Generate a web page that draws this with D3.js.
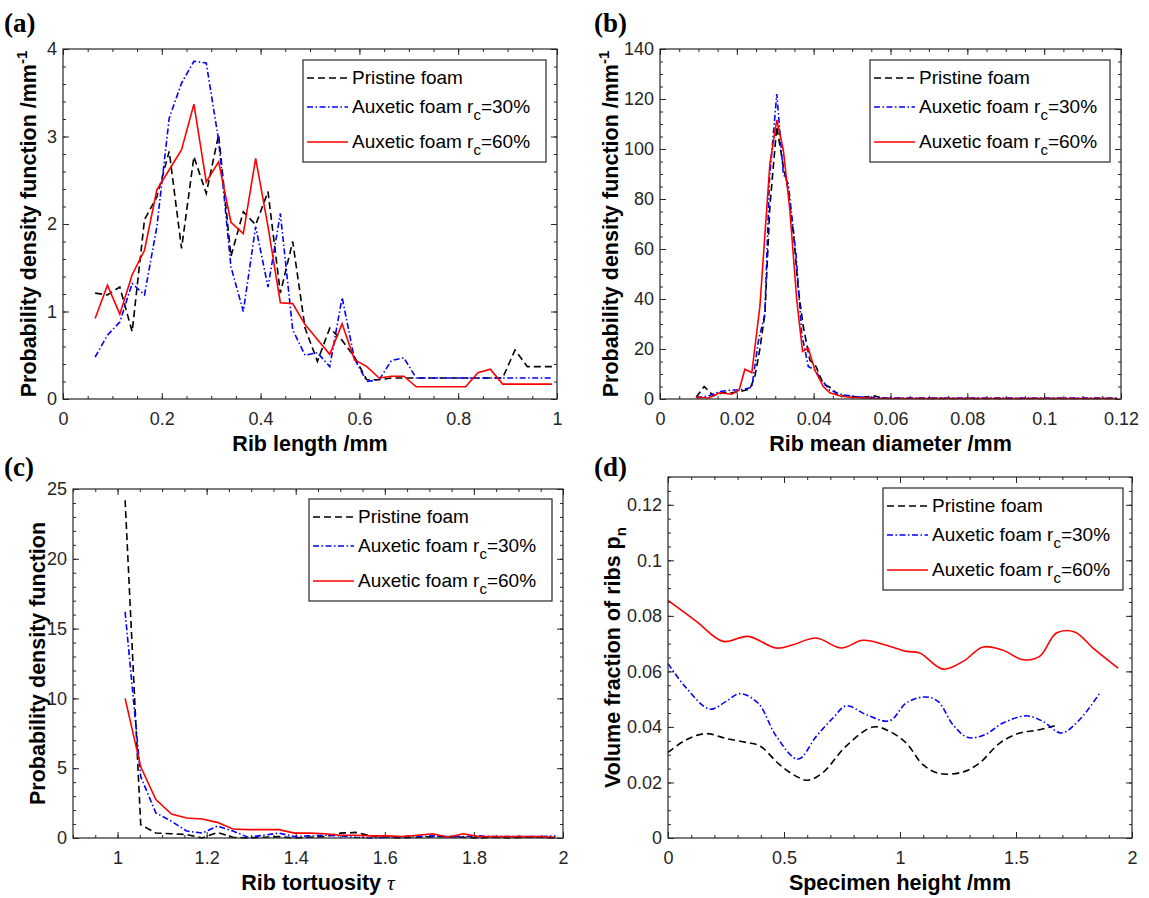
<!DOCTYPE html>
<html>
<head>
<meta charset="utf-8">
<script src="https://cdn.jsdelivr.net/npm/d3@7"></script>
<style>
body { margin: 0; background: #fff; }
</style>
</head>
<body>
<script>
// ---------- data ----------
var seriesNames = ["Pristine foam", "Auxetic foam r", "Auxetic foam r"];
var seriesSubs  = ["", "c", "c"];
var seriesTails = ["", "=30%", "=60%"];

// (a) rib length
var aX = [0.065,0.090,0.115,0.140,0.165,0.190,0.215,0.240,0.265,0.290,0.315,0.340,0.365,0.390,0.415,0.440,0.465,0.490,0.515,0.540,0.565,0.590,0.615,0.640,0.665,0.690,0.715,0.740,0.765,0.790,0.815,0.840,0.865,0.890,0.915,0.940,0.965,0.990];
var aPristine = [1.21,1.19,1.28,0.77,2.05,2.31,2.83,1.72,2.77,2.35,3.02,1.63,2.14,1.99,2.37,1.21,1.80,0.81,0.43,0.81,0.67,0.48,0.22,0.22,0.24,0.24,0.24,0.24,0.24,0.24,0.24,0.24,0.24,0.24,0.56,0.37,0.37,0.37];
var aAux30 = [0.48,0.73,0.88,1.32,1.19,1.97,3.21,3.61,3.86,3.84,2.96,1.51,1.00,1.97,1.28,2.12,0.79,0.50,0.53,0.37,1.16,0.46,0.20,0.22,0.44,0.47,0.24,0.24,0.24,0.24,0.24,0.24,0.24,0.24,0.24,0.24,0.24,0.24];
var aAux60 = [0.92,1.30,0.97,1.42,1.70,2.39,2.62,2.85,3.37,2.48,2.71,2.02,1.89,2.75,1.97,1.10,1.09,0.85,0.68,0.51,0.86,0.45,0.37,0.24,0.26,0.26,0.14,0.14,0.14,0.14,0.14,0.30,0.34,0.17,0.17,0.17,0.17,0.17];
var aXTicks = [0,0.2,0.4,0.6,0.8,1];
var aYTicks = [0,1,2,3,4];

// (b) rib mean diameter
var bPristineX = [0.0094,0.0115,0.0139,0.0163,0.0187,0.0208,0.0234,0.0247,0.0260,0.0273,0.0286,0.0304,0.0321,0.0334,0.0349,0.0360,0.0373,0.0390,0.0406,0.0425,0.0447,0.0468,0.0480,0.0520,0.0560,0.0580,0.0620,0.0800,0.1000,0.1190];
var bPristine  = [0.7,5.0,1.3,2.5,2.5,3.0,4.0,9.0,20.0,34.0,77.0,109.0,93.0,83.6,63.6,43.6,29.0,15.6,13.0,6.0,4.3,0.5,1.5,0.6,1.2,0.3,0.3,0.2,0.2,0.2];
var bAux30X = [0.0094,0.0126,0.0156,0.0187,0.0206,0.0221,0.0239,0.0256,0.0273,0.0285,0.0304,0.0321,0.0334,0.0354,0.0369,0.0386,0.0403,0.0421,0.0442,0.0460,0.0480,0.0520,0.0560,0.0600,0.0800,0.1000,0.1190];
var bAux30  = [0.5,1.2,3.0,3.6,3.6,4.0,4.7,23.0,34.0,88.0,122.0,90.0,86.0,58.0,26.0,13.0,11.6,7.6,3.6,2.5,1.5,0.8,0.5,0.4,0.4,0.4,0.4];
var bAux60X = [0.0094,0.0126,0.0156,0.0187,0.0206,0.0221,0.0239,0.0260,0.0286,0.0304,0.0321,0.0338,0.0356,0.0371,0.0386,0.0403,0.0425,0.0442,0.0470,0.0500,0.0550,0.0600,0.0800,0.1000,0.1190];
var bAux60  = [0.7,0.4,2.5,1.9,3.6,11.9,10.5,37.0,94.0,111.6,99.6,75.6,39.6,19.0,20.3,11.6,5.0,2.5,1.2,0.6,0.3,0.2,0.2,0.2,0.2];
var bXTicks = [0,0.02,0.04,0.06,0.08,0.1,0.12];
var bYTicks = [0,20,40,60,80,100,120,140];

// (c) rib tortuosity
var cX = [1.017,1.052,1.086,1.121,1.155,1.190,1.224,1.259,1.293,1.328,1.362,1.397,1.431,1.466,1.500,1.535,1.569,1.604,1.638,1.673,1.707,1.742,1.776,1.811,1.845,1.880,1.914,1.949,1.983];
var cPristine = [24.2,0.95,0.36,0.30,0.25,0.0,0.40,0.05,0.0,0.05,0.10,0.0,0.05,0.10,0.35,0.40,0.15,0.05,0.0,0.05,0.10,0.10,0.05,0.0,0.05,0.0,0.05,0.05,0.0];
var cAux30 = [16.2,4.4,1.8,1.2,0.5,0.35,0.85,0.5,0.05,0.2,0.35,0.1,0.15,0.2,0.15,0.05,0.0,0.05,0.1,0.1,0.15,0.1,0.1,0.15,0.1,0.1,0.1,0.1,0.15];
var cAux60 = [10.0,5.1,2.75,1.72,1.43,1.36,1.12,0.64,0.6,0.6,0.6,0.35,0.35,0.3,0.2,0.2,0.15,0.15,0.1,0.2,0.3,0.05,0.3,0.1,0.1,0.1,0.1,0.1,0.05];
var cXTicks = [1,1.2,1.4,1.6,1.8,2];
var cYTicks = [0,5,10,15,20,25];

// (d) volume fraction along height
var dPristineX = [0,0.079,0.165,0.251,0.338,0.395,0.481,0.553,0.603,0.668,0.769,0.884,0.955,1.027,1.099,1.171,1.272,1.343,1.430,1.516,1.588,1.667];
var dPristine  = [0.0308,0.0354,0.0376,0.0358,0.0344,0.0332,0.0264,0.0222,0.0208,0.0236,0.0332,0.0400,0.0384,0.0342,0.0264,0.0232,0.0238,0.0270,0.0342,0.0378,0.0388,0.0404];
var dAux30X = [0,0.079,0.180,0.251,0.309,0.388,0.467,0.560,0.639,0.711,0.769,0.855,0.955,1.027,1.106,1.164,1.228,1.293,1.365,1.444,1.545,1.616,1.695,1.774,1.861];
var dAux30  = [0.0628,0.0540,0.0464,0.0492,0.0520,0.0486,0.0366,0.0284,0.0366,0.0432,0.0476,0.0444,0.0422,0.0486,0.0508,0.0492,0.0408,0.0362,0.0372,0.0414,0.0440,0.0420,0.0378,0.0426,0.0522];
var dAux60X = [0,0.122,0.237,0.345,0.467,0.539,0.639,0.747,0.840,0.941,1.027,1.085,1.185,1.272,1.358,1.444,1.530,1.602,1.674,1.753,1.832,1.940];
var dAux60  = [0.0856,0.0780,0.0708,0.0726,0.0684,0.0696,0.0720,0.0684,0.0712,0.0694,0.0672,0.0666,0.0608,0.0636,0.0688,0.0676,0.0642,0.0654,0.0738,0.0742,0.0684,0.0612];
var dXTicks = [0,0.5,1,1.5,2];
var dYTicks = [0,0.02,0.04,0.06,0.08,0.1,0.12];

// ---------- drawing ----------
var sans = "'Liberation Sans', Arial, sans-serif";
var serif = "'Liberation Serif', 'Times New Roman', serif";
var axisColor = "#262626";
var styles = [
  {color: "#000000", dash: "7,4"},
  {color: "#0000ff", dash: "6,2.5,1.5,2.5"},
  {color: "#ff0000", dash: null}
];

var svg = d3.select("body").append("svg")
  .attr("width", 1149)
  .attr("height", 898);

function fmt(d) { return String(+d.toFixed(4)); }

function drawPanel(p) {
  var g = svg.append("g");
  var x = d3.scaleLinear().domain(p.xDomain).range([p.left, p.right]);
  var y = d3.scaleLinear().domain(p.yDomain).range([p.bottom, p.top]);

  var xMinor = d3.range(p.xDomain[0], p.xDomain[1] + 1e-9, p.xMinor);
  var yMinor = d3.range(p.yDomain[0], p.yDomain[1] + 1e-9, p.yMinor);

  // minor ticks, all four sides, pointing inward
  g.append("g").attr("transform", "translate(0," + p.bottom + ")")
    .call(d3.axisBottom(x).tickValues(xMinor).tickSize(-3).tickFormat(""));
  g.append("g").attr("transform", "translate(0," + p.top + ")")
    .call(d3.axisTop(x).tickValues(xMinor).tickSize(-3).tickFormat(""));
  g.append("g").attr("transform", "translate(" + p.left + ",0)")
    .call(d3.axisLeft(y).tickValues(yMinor).tickSize(-3).tickFormat(""));
  g.append("g").attr("transform", "translate(" + p.right + ",0)")
    .call(d3.axisRight(y).tickValues(yMinor).tickSize(-3).tickFormat(""));

  // major ticks with labels
  g.append("g").attr("transform", "translate(0," + p.bottom + ")")
    .call(d3.axisBottom(x).tickValues(p.xTicks).tickSize(-6).tickPadding(13).tickFormat(fmt));
  g.append("g").attr("transform", "translate(0," + p.top + ")")
    .call(d3.axisTop(x).tickValues(p.xTicks).tickSize(-6).tickFormat(""));
  g.append("g").attr("transform", "translate(" + p.left + ",0)")
    .call(d3.axisLeft(y).tickValues(p.yTicks).tickSize(-6).tickPadding(6).tickFormat(fmt));
  g.append("g").attr("transform", "translate(" + p.right + ",0)")
    .call(d3.axisRight(y).tickValues(p.yTicks).tickSize(-6).tickFormat(""));

  g.selectAll(".domain").remove();
  g.selectAll(".tick line").attr("stroke", axisColor);
  g.selectAll(".tick text").attr("fill", axisColor)
    .attr("font-family", sans).attr("font-size", 18);

  // series
  var line = d3.line().x(function(d) { return x(d[0]); }).y(function(d) { return y(d[1]); });
  if (p.curve) line.curve(p.curve);
  p.series.forEach(function(s, i) {
    g.append("path")
      .datum(d3.zip(s.x, s.y))
      .attr("fill", "none")
      .attr("stroke", styles[i].color)
      .attr("stroke-width", 1.6)
      .attr("stroke-dasharray", styles[i].dash)
      .attr("d", line);
  });

  // frame
  g.append("rect")
    .attr("x", p.left).attr("y", p.top)
    .attr("width", p.right - p.left).attr("height", p.bottom - p.top)
    .attr("fill", "none").attr("stroke", axisColor).attr("stroke-width", 1.2);

  // legend
  var L = p.legend;
  var lg = g.append("g").attr("transform", "translate(" + L.x + "," + L.y + ")");
  lg.append("rect").attr("width", L.w).attr("height", 102)
    .attr("fill", "#fff").attr("stroke", axisColor).attr("stroke-width", 1.2);
  var lineY = [18, 47, 82];
  seriesNames.forEach(function(name, i) {
    lg.append("line")
      .attr("x1", 4).attr("x2", 45)
      .attr("y1", lineY[i]).attr("y2", lineY[i])
      .attr("stroke", styles[i].color).attr("stroke-width", 1.6)
      .attr("stroke-dasharray", styles[i].dash);
    var t = lg.append("text")
      .attr("x", 49).attr("y", lineY[i] + 6)
      .attr("font-family", sans).attr("font-size", 19).attr("fill", "#000")
      .text(name);
    if (seriesSubs[i]) {
      t.append("tspan").attr("dy", 7).attr("font-size", 15).text(seriesSubs[i]);
      t.append("tspan").attr("dy", -7).text(seriesTails[i]);
    }
  });

  // x title
  var xt = g.append("text")
    .attr("x", (p.left + p.right) / 2).attr("y", p.bottom + 52)
    .attr("text-anchor", "middle")
    .attr("font-family", sans).attr("font-weight", "bold").attr("font-size", 21.5)
    .attr("fill", "#000")
    .text(p.xTitle);
  if (p.xTitleExtra) {
    xt.append("tspan").attr("font-family", serif).attr("font-style", "italic")
      .attr("font-weight", "normal").text(p.xTitleExtra);
  }

  // y title
  var yt = g.append("text")
    .attr("transform", "translate(" + p.yTitleX + "," + ((p.top + p.bottom) / 2) + ") rotate(-90)")
    .attr("text-anchor", "middle")
    .attr("font-family", sans).attr("font-weight", "bold").attr("font-size", 21.5)
    .attr("fill", "#000")
    .text(p.yTitle);
  if (p.yTitleSup) {
    yt.append("tspan").attr("dy", -9).attr("font-size", 15).text(p.yTitleSup);
  }
  if (p.yTitleSub) {
    yt.append("tspan").attr("dy", 6).attr("font-size", 15).text(p.yTitleSub);
  }

  // panel tag
  svg.append("text")
    .attr("x", p.tag[1]).attr("y", p.tag[2])
    .attr("font-family", serif).attr("font-weight", "bold").attr("font-size", 27)
    .attr("fill", "#000")
    .text(p.tag[0]);
}

drawPanel({
  left: 63, right: 557, top: 49, bottom: 399,
  xDomain: [0, 1], yDomain: [0, 4], xMinor: 0.05, yMinor: 0.2,
  xTicks: aXTicks, yTicks: aYTicks,
  series: [{x: aX, y: aPristine}, {x: aX, y: aAux30}, {x: aX, y: aAux60}],
  legend: {x: 303, y: 60, w: 243},
  xTitle: "Rib length /mm",
  yTitle: "Probability density function /mm", yTitleSup: "-1", yTitleX: 36,
  tag: ["(a)", 4, 32]
});

drawPanel({
  left: 660, right: 1121, top: 49, bottom: 399,
  xDomain: [0, 0.12], yDomain: [0, 140], xMinor: 0.005, yMinor: 5,
  xTicks: bXTicks, yTicks: bYTicks,
  series: [{x: bPristineX, y: bPristine}, {x: bAux30X, y: bAux30}, {x: bAux60X, y: bAux60}],
  legend: {x: 870, y: 60, w: 240},
  xTitle: "Rib mean diameter /mm",
  yTitle: "Probability density function /mm", yTitleSup: "-1", yTitleX: 618,
  tag: ["(b)", 594, 32]
});

drawPanel({
  left: 73, right: 563, top: 489, bottom: 838,
  xDomain: [0.9, 2], yDomain: [0, 25], xMinor: 0.05, yMinor: 1,
  xTicks: cXTicks, yTicks: cYTicks,
  series: [{x: cX, y: cPristine}, {x: cX, y: cAux30}, {x: cX, y: cAux60}],
  legend: {x: 309, y: 499, w: 243},
  xTitle: "Rib tortuosity ", xTitleExtra: "\u03c4",
  yTitle: "Probability density function", yTitleX: 45,
  tag: ["(c)", 4, 476]
});

drawPanel({
  left: 668, right: 1132, top: 477, bottom: 838,
  xDomain: [0, 2], yDomain: [0, 0.13], xMinor: 0.1, yMinor: 0.005,
  xTicks: dXTicks, yTicks: dYTicks,
  series: [{x: dPristineX, y: dPristine}, {x: dAux30X, y: dAux30}, {x: dAux60X, y: dAux60}],
  legend: {x: 883, y: 488, w: 240},
  curve: d3.curveCatmullRom.alpha(0.5),
  xTitle: "Specimen height /mm",
  yTitle: "Volume fraction of ribs p", yTitleSub: "n", yTitleX: 620,
  tag: ["(d)", 594, 476]
});
</script>
</body>
</html>
